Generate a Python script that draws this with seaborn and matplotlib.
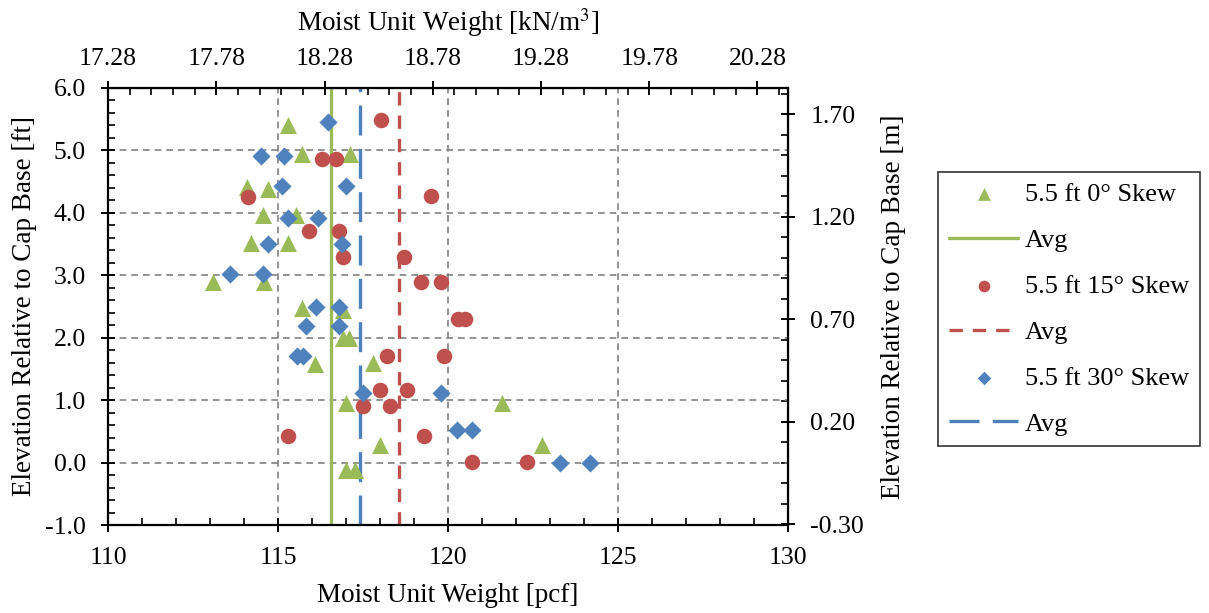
import numpy as np
import pandas as pd
import seaborn as sns
import matplotlib.pyplot as plt
from matplotlib.ticker import MultipleLocator, FixedLocator, FormatStrFormatter

# 5.5 ft 0 deg skew (triangles)
skew0_pcf = [115.28, 115.70, 117.12, 114.10, 114.71, 114.57, 115.53, 114.21, 115.28, 113.10,
             114.60, 115.70, 116.90, 116.90, 117.10, 116.09, 117.78, 117.00, 121.60, 118.00,
             122.77, 117.00, 117.26]
skew0_ft = [5.40, 4.95, 4.95, 4.42, 4.39, 3.97, 3.97, 3.51, 3.51, 2.90,
            2.90, 2.47, 2.44, 2.00, 2.00, 1.58, 1.59, 0.96, 0.96, 0.28,
            0.28, -0.12, -0.12]
# 5.5 ft 15 deg skew (circles)
skew15_pcf = [118.02, 116.28, 116.70, 114.13, 119.50, 115.91, 116.80, 116.90, 118.71, 119.20,
              119.80, 120.30, 120.50, 118.20, 119.89, 118.00, 118.80, 117.51, 118.29, 115.30,
              119.29, 120.72, 122.31]
skew15_ft = [5.48, 4.87, 4.87, 4.26, 4.27, 3.71, 3.71, 3.30, 3.29, 2.90,
             2.90, 2.30, 2.30, 1.70, 1.70, 1.16, 1.16, 0.90, 0.90, 0.43,
             0.43, 0.01, 0.01]
# 5.5 ft 30 deg skew (diamonds)
skew30_pcf = [116.48, 114.50, 115.19, 115.11, 117.00, 115.28, 116.19, 114.71, 116.87, 113.59,
              114.57, 116.11, 116.79, 115.81, 116.79, 115.55, 115.73, 117.49, 119.78, 120.27,
              120.70, 123.29, 124.18]
skew30_ft = [5.46, 4.91, 4.91, 4.43, 4.43, 3.91, 3.91, 3.50, 3.50, 3.02,
             3.02, 2.50, 2.50, 2.18, 2.18, 1.70, 1.70, 1.12, 1.12, 0.52,
             0.52, -0.01, -0.01]

avg_pcf = {'0': 116.55, '15': 118.56, '30': 117.41}

PCF_TO_KN = 0.157087
FT_TO_M = 0.3048

green = '#9BBB59'
red = '#C0504D'
blue = '#4F81BD'

sns.set_style('white')
plt.rcParams['font.family'] = ['Liberation Serif', 'DejaVu Serif']
plt.rcParams['mathtext.fontset'] = 'stix'
plt.rcParams['font.size'] = 19
plt.rcParams['text.color'] = 'black'
plt.rcParams['axes.labelcolor'] = 'black'
plt.rcParams['xtick.color'] = 'black'
plt.rcParams['ytick.color'] = 'black'

fig = plt.figure(figsize=(12.09, 6.13), dpi=100)
ax = fig.add_axes([108 / 1209, 88 / 613, 680 / 1209, 437 / 613])

d0 = pd.DataFrame({'pcf': skew0_pcf, 'ft': skew0_ft})
d15 = pd.DataFrame({'pcf': skew15_pcf, 'ft': skew15_ft})
d30 = pd.DataFrame({'pcf': skew30_pcf, 'ft': skew30_ft})

sns.scatterplot(data=d0, x='pcf', y='ft', ax=ax, marker='^', color=green, s=150,
                linewidth=0, label='5.5 ft 0° Skew', zorder=3)
ax.axvline(avg_pcf['0'], color=green, lw=2.4, label='Avg', zorder=2)
sns.scatterplot(data=d15, x='pcf', y='ft', ax=ax, marker='o', color=red, s=125,
                linewidth=0, label='5.5 ft 15° Skew', zorder=3)
ax.axvline(avg_pcf['15'], color=red, lw=2.4, dashes=(4, 3), label='Avg', zorder=2)
sns.scatterplot(data=d30, x='pcf', y='ft', ax=ax, marker='D', color=blue, s=85,
                linewidth=0, label='5.5 ft 30° Skew', zorder=3)
ax.axvline(avg_pcf['30'], color=blue, lw=2.4, dashes=(9, 4), label='Avg', zorder=2)

ax.set_xlim(110, 130)
ax.set_ylim(-1, 6)
ax.xaxis.set_major_locator(MultipleLocator(5))
ax.xaxis.set_minor_locator(MultipleLocator(1))
ax.yaxis.set_major_locator(MultipleLocator(1))
ax.yaxis.set_minor_locator(MultipleLocator(0.2))
ax.yaxis.set_major_formatter(FormatStrFormatter('%.1f'))
ax.grid(True, which='major', color='#808080', lw=1.2, ls=(0, (4, 3)))
ax.set_axisbelow(True)

for sp in ax.spines.values():
    sp.set_color('black')
    sp.set_linewidth(1.6)

ax.tick_params(which='major', direction='inout', length=10, width=1.4, colors='black',
               labelsize=18.5, pad=11, bottom=True, left=True, top=False, right=False)
ax.tick_params(which='minor', direction='in', length=5, width=1.2, colors='black',
               bottom=True, left=True, top=False, right=False)
ax.set_xlabel('Moist Unit Weight [pcf]', fontsize=19.5, labelpad=10, color='black')
ax.set_ylabel('Elevation Relative to Cap Base [ft]', fontsize=19.5, labelpad=6, color='black')

top = ax.secondary_xaxis('top', functions=(lambda v: v * PCF_TO_KN, lambda v: v / PCF_TO_KN))
top.xaxis.set_major_locator(FixedLocator(np.arange(17.28, 20.3, 0.5)))
top.xaxis.set_minor_locator(FixedLocator(np.arange(17.28, 20.45, 0.1)))
top.xaxis.set_major_formatter(FormatStrFormatter('%.2f'))
top.tick_params(which='major', direction='inout', length=10, width=1.4, labelsize=18.5,
                pad=8, colors='black')
top.tick_params(which='minor', direction='in', length=5, width=1.2, colors='black')
top.set_xlabel('Moist Unit Weight [kN/m$^{3}$]', fontsize=19.5, labelpad=12, color='black')

right = ax.secondary_yaxis('right', functions=(lambda v: v * FT_TO_M, lambda v: v / FT_TO_M))
right.yaxis.set_major_locator(FixedLocator(np.arange(-0.30, 1.75, 0.5)))
right.yaxis.set_minor_locator(FixedLocator(np.arange(-0.30, 1.85, 0.1)))
right.yaxis.set_major_formatter(FormatStrFormatter('%.2f'))
right.tick_params(which='major', direction='inout', length=10, width=1.4, labelsize=18.5,
                  pad=11, colors='black')
right.tick_params(which='minor', direction='in', length=5, width=1.2, colors='black')
right.set_ylabel('Elevation Relative to Cap Base [m]', fontsize=19.5, labelpad=12, color='black')

leg = ax.legend(loc='upper left', bbox_to_anchor=(938 / 1209, 1 - 172 / 613),
                bbox_transform=fig.transFigure, frameon=True, fancybox=False,
                edgecolor='black', fontsize=19, labelspacing=0.85, handlelength=2.65,
                handletextpad=0.25, borderpad=0.4, borderaxespad=0, markerscale=0.75)
leg.get_frame().set_linewidth(1.2)
for t in leg.get_texts():
    t.set_color('black')

fig.savefig('out.png', dpi=100)
